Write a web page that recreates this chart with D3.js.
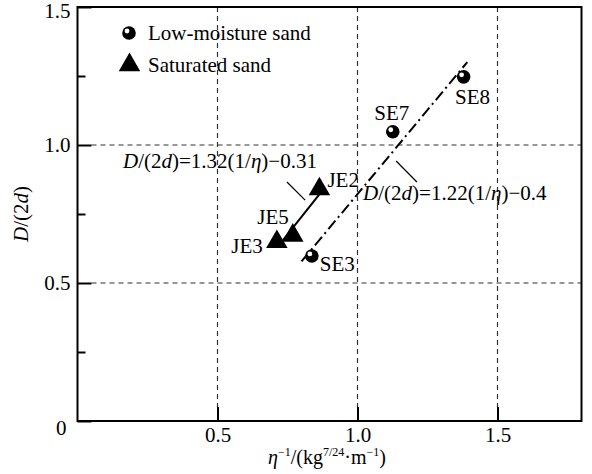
<!DOCTYPE html>
<meta charset="utf-8">
<style>
  body { margin: 0; background: #fff; }
  svg text { font-family: 'Liberation Serif', 'Times New Roman', Times, 'DejaVu Serif', serif; fill: #000; }
</style>
<body>
<div id="chart"></div>
<script src="https://d3js.org/d3.v7.min.js"></script>
<script>
// data
var lowNames = ["SE3", "SE7", "SE8"];
var lowX = [0.837, 1.126, 1.379];
var lowY = [0.598, 1.048, 1.247];

var satNames = ["JE3", "JE5", "JE2"];
var satX = [0.712, 0.769, 0.864];
var satY = [0.649, 0.672, 0.84];

// fitted lines, end points as drawn
var satFitX = [0.734, 0.863];
var satFitY = [0.655, 0.82];
var lowFitX = [0.80, 1.392];
var lowFitY = [0.578, 1.30];

var xTicks = [0.5, 1.0, 1.5];
var yTicks = [0, 0.5, 1.0, 1.5];
var yMinor = [0.25, 0.75, 1.25];

var serif = "'Liberation Serif', 'Times New Roman', Times, 'DejaVu Serif', serif";
var fs = "21px";

var margin = {top: 7, right: 10.5, bottom: 53, left: 77.5},
    width = 592 - margin.left - margin.right,
    height = 474 - margin.top - margin.bottom;

var svg = d3.select("#chart")
  .append("svg")
    .attr("width", 592)
    .attr("height", 474)
    .style("font-family", serif)
  .append("g")
    .attr("transform", "translate(" + margin.left + "," + margin.top + ")");

var x = d3.scaleLinear().domain([0, 1.8]).range([0, width]);
var y = d3.scaleLinear().domain([0, 1.5]).range([height, 0]);

// grid
svg.selectAll(".vgrid")
  .data(xTicks)
  .enter().append("line")
    .attr("x1", d => x(d)).attr("x2", d => x(d))
    .attr("y1", 0).attr("y2", height - 14)
    .attr("stroke", "#333").attr("stroke-width", 1.2)
    .attr("stroke-dasharray", "5,4");
svg.selectAll(".hgrid")
  .data([0.5, 1.0])
  .enter().append("line")
    .attr("x1", 14).attr("x2", width)
    .attr("y1", d => y(d)).attr("y2", d => y(d))
    .attr("stroke", "#333").attr("stroke-width", 1.2)
    .attr("stroke-dasharray", "5,4");

// axes
var xAxis = svg.append("g")
  .attr("transform", "translate(0," + height + ")")
  .call(d3.axisBottom(x).tickValues(xTicks).tickSize(-14).tickPadding(6).tickFormat(d3.format(".1f")));
var yAxis = svg.append("g")
  .call(d3.axisLeft(y).tickValues(yTicks).tickSize(-14).tickPadding(7)
    .tickFormat(d => d === 0 ? "0" : d3.format(".1f")(d)));
svg.append("g")
  .call(d3.axisLeft(y).tickValues(yMinor).tickSize(-8).tickFormat(""));

svg.selectAll(".domain").remove();
svg.selectAll(".tick line").attr("stroke", "#000").attr("stroke-width", 2);
svg.selectAll(".tick text")
  .attr("font-family", null)
  .style("font-family", serif)
  .style("font-size", fs)
  .attr("fill", "#000");
yAxis.selectAll(".tick").filter(d => d === 0).select("text").attr("dy", "0.62em").attr("dx", -4);
yAxis.selectAll(".tick").filter(d => d === 1.5).select("text").attr("dy", "0.5em");

// frame
svg.append("rect")
  .attr("x", 0).attr("y", 0)
  .attr("width", width).attr("height", height)
  .attr("fill", "none").attr("stroke", "#000").attr("stroke-width", 2);

// fit lines
var line = d3.line().x(d => x(d[0])).y(d => y(d[1]));
svg.append("path")
  .attr("d", line(d3.zip(lowFitX, lowFitY)))
  .attr("fill", "none").attr("stroke", "#000").attr("stroke-width", 2)
  .attr("stroke-dasharray", "11,4,2,4");
svg.append("path")
  .attr("d", line(d3.zip(satFitX, satFitY)))
  .attr("fill", "none").attr("stroke", "#000").attr("stroke-width", 2);

// markers
function ball(g) {
  g.append("circle").attr("r", 6.8).attr("fill", "#000");
  g.append("circle").attr("cx", -2).attr("cy", -2).attr("r", 2.4).attr("fill", "#fff");
}
var tri = d3.symbol().type(d3.symbolTriangle).size(200);

var lowPts = svg.selectAll(".low")
  .data(d3.zip(lowX, lowY, lowNames))
  .enter().append("g")
    .attr("transform", d => "translate(" + x(d[0]) + "," + y(d[1]) + ")");
lowPts.each(function() { ball(d3.select(this)); });

svg.selectAll(".sat")
  .data(d3.zip(satX, satY, satNames))
  .enter().append("path")
    .attr("d", tri)
    .attr("fill", "#000")
    .attr("transform", d => "translate(" + x(d[0]) + "," + y(d[1]) + ")");

// point labels
var labelPos = {
  SE3: [8, 15, "start"], SE7: [-1, -12, "middle"], SE8: [9, 27, "middle"],
  JE2: [8, -2, "start"], JE5: [-4, -12, "end"], JE3: [-14, 11, "end"]
};
svg.selectAll(".plabel")
  .data(d3.zip(lowX, lowY, lowNames).concat(d3.zip(satX, satY, satNames)))
  .enter().append("text")
    .attr("x", d => x(d[0]) + labelPos[d[2]][0])
    .attr("y", d => y(d[1]) + labelPos[d[2]][1])
    .attr("text-anchor", d => labelPos[d[2]][2])
    .style("font-size", fs)
    .text(d => d[2]);

// equations
function equation(tx, ty, anchor, parts) {
  var t = svg.append("text")
    .attr("x", x(tx)).attr("y", y(ty))
    .attr("text-anchor", anchor)
    .style("font-size", fs);
  parts.forEach(function(p) {
    t.append("tspan").style("font-style", p[1] ? "italic" : "normal").text(p[0]);
  });
}
equation(0.855, 0.917, "end",
  [["D", 1], ["/(2", 0], ["d", 1], [")=1.32(1/", 0], ["\u03b7", 1], [")\u22120.31", 0]]);
equation(1.02, 0.80, "start",
  [["D", 1], ["/(2", 0], ["d", 1], [")=1.22(1/", 0], ["\u03b7", 1], [")\u22120.4", 0]]);

var leaders = [[[0.748, 0.866], [0.813, 0.80]], [[1.138, 0.942], [1.212, 0.866]]];
svg.selectAll(".leader")
  .data(leaders)
  .enter().append("path")
    .attr("d", d => line(d))
    .attr("stroke", "#000").attr("stroke-width", 1.2);

// legend
var legend = svg.append("g").attr("transform", "translate(" + (129 - margin.left) + "," + (33 - margin.top) + ")");
ball(legend.append("g"));
legend.append("path").attr("d", tri).attr("fill", "#000").attr("transform", "translate(0.5,32)");
legend.append("text").attr("x", 19).attr("y", 7).style("font-size", fs).text("Low-moisture sand");
legend.append("text").attr("x", 19).attr("y", 39).style("font-size", fs).text("Saturated sand");

// axis titles
var xt = svg.append("text")
  .attr("x", 327 - margin.left).attr("y", 464 - margin.top)
  .attr("text-anchor", "middle")
  .style("font-size", "20px");
xt.append("tspan").style("font-style", "italic").text("\u03b7");
xt.append("tspan").attr("dy", -8).style("font-size", "12px").text("\u22121");
xt.append("tspan").attr("dy", 8).text("/(kg");
xt.append("tspan").attr("dy", -8).style("font-size", "12px").text("7/24");
xt.append("tspan").attr("dy", 8).text("\u00b7m");
xt.append("tspan").attr("dy", -8).style("font-size", "12px").text("\u22121");
xt.append("tspan").attr("dy", 8).text(")");

var yt = svg.append("text")
  .attr("transform", "translate(" + (28 - margin.left) + "," + (214 - margin.top) + ") rotate(-90)")
  .attr("text-anchor", "middle")
  .style("font-size", fs);
yt.append("tspan").style("font-style", "italic").text("D");
yt.append("tspan").text("/(2");
yt.append("tspan").style("font-style", "italic").text("d");
yt.append("tspan").text(")");
</script>
</body>
